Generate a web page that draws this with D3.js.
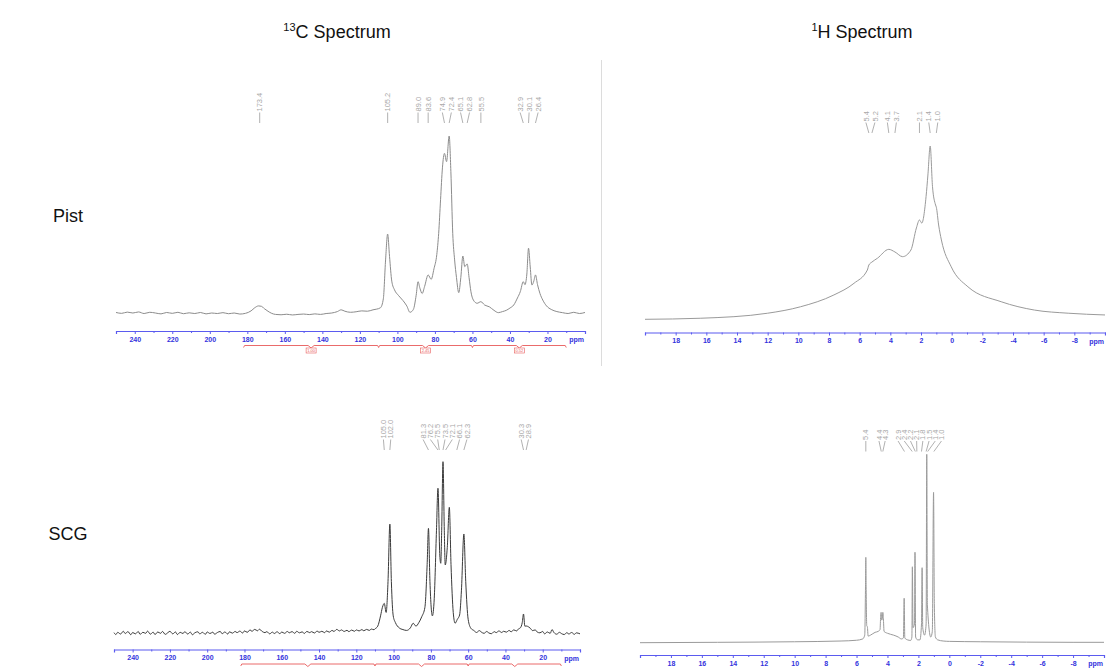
<!DOCTYPE html>
<html>
<head>
<meta charset="utf-8">
<script src="https://cdn.jsdelivr.net/npm/d3@7"></script>
<style>
  html, body { margin: 0; padding: 0; background: #fff; }
  svg { display: block; font-family: "Liberation Sans", Arial, sans-serif; }
</style>
</head>
<body>
<svg id="fig" width="1106" height="668"></svg>
<script>
// ---- Spectra: [chemical shift (ppm), relative intensity] ----
const pist13C = [
  [250,0.3],[247,-0.2],[244,0.5],[241,0.0],[238,0.6],[235,-0.3],[232,0.4],[229,0.0],[226,-0.5],[223,0.3],
  [220,-0.2],[217,0.4],[214,-0.4],[211,0.1],[208,-0.3],[205,0.3],[202,-0.5],[199,0.0],[196,-0.3],[193,0.2],
  [190,-0.4],[187,0.0],[184,-0.6],[181,-0.2],[178,1.2],[176,3.0],[174,4.0],[172.5,3.8],[171,2.5],[169,1.0],
  [167,-0.2],[165,-0.8],[162,-1.0],[159,-0.7],[156,-1.1],[153,-0.8],[150,-0.6],[147,-0.9],[144,-0.5],[141,-0.8],
  [138,-0.3],[135,0.0],[132,0.8],[130,1.8],[128,1.0],[125,0.4],[122,0.7],[119,1.2],[116,1.0],[113,1.8],
  [111,2.2],[109,3.0],[107.5,8],[106.3,30],[105.2,44.6],[104.2,32],[103,18],[101.5,13],[99.5,10],[97,7],
  [95,4],[93.3,0.4],[91.5,2],[90,10],[89,17.7],[88,14],[86.8,11],[85.5,15],[83.6,21.5],[82,19],
  [80.5,25],[79,33],[78,45],[77,64],[76,82],[74.9,90.2],[73.8,85.5],[72.4,100],[71.5,80],[70.5,45],
  [69.5,30],[68.5,20],[67.3,11.5],[66.2,20],[65.1,32.2],[64.1,26.2],[62.8,27.7],[61.8,20],[60.8,12],[59.5,7.3],
  [57.5,5.5],[55.5,6.4],[53.5,4.5],[51,3.5],[48.5,1.5],[46.2,0.2],[44,0.8],[42,1.5],[40,2.8],[38,4.5],
  [36,8.5],[34.5,12],[32.9,17.7],[32,16],[31,22],[30.1,36.6],[29.2,26],[28.3,15.8],[27.3,18],[26.4,21.5],
  [25.3,16],[24,11],[22.5,7.3],[20.5,4],[18,2],[15,0.8],[12,0.2],[9,-0.3],[6,0.4],[3,-0.3],[0,0.3]
];
const pist1H = [
  [20,0.4],[16.4,1.0],[12,3.9],[9.86,7.6],[7.68,14.4],[6.37,21.1],[5.5,28.7],[5.4,31.6],[5.2,33.3],[4.84,35.5],
  [4.1,40.6],[3.7,39.1],[3.2,36.4],[2.66,40.2],[2.3,52.9],[2.1,57.5],[1.95,55.7],[1.67,70.9],[1.55,83.3],[1.4,100],
  [1.25,76.6],[1.05,66.1],[1.0,64.8],[0.85,54.6],[0.67,46],[0.03,30.6],[-1.06,19.1],[-3.23,10.5],[-5.41,5.7],[-7.6,3.9],
  [-10,2.9]
];
const scg13C = [
  [250,0.2],[249,-0.9],[248,0.4],[246.5,-0.6],[245,1.0],[244,-0.3],[242.5,0.8],[241,-1.0],[240,0.3],[238.5,-0.5],
  [237,0.9],[236,-0.8],[234.5,0.4],[233,-0.2],[232,1.1],[230.5,-0.7],[229,0.5],[228,-0.9],[226.5,0.6],[225,-0.2],
  [224,0.9],[222.5,-0.8],[221,0.3],[220,1.0],[218.5,-0.5],[217,0.6],[216,-0.9],[214.5,0.4],[213,-0.3],[212,0.8],
  [210.5,-0.6],[209,0.5],[208,-1.0],[206.5,0.2],[205,0.7],[204,-0.5],[202.5,0.4],[201,-0.8],[200,0.6],[198.5,-0.3],
  [197,0.5],[196,-0.7],[194.5,0.3],[193,0.9],[192,-0.4],[190.5,0.6],[189,-0.6],[188,0.7],[186.5,-0.1],[185,0.9],
  [184,0.2],[182.5,1.1],[181,0.0],[180,1.2],[178.5,0.4],[177,1.8],[176,1.0],[174.5,2.1],[173,1.3],[172,2.2],
  [170.5,0.9],[169,0.2],[168,0.8],[166.5,-0.5],[165,0.5],[164,-0.3],[162.5,0.7],[161,-0.4],[160,0.6],[158.5,-0.2],
  [157,0.9],[156,0.1],[154.5,0.8],[153,-0.2],[152,1.0],[150.5,0.1],[149,0.7],[148,-0.3],[146.5,0.9],[145,0.2],
  [144,0.8],[142.5,0.0],[141,1.1],[140,0.4],[138.5,1.0],[137,0.2],[136,1.2],[134.5,0.5],[133,1.5],[132,0.9],
  [130.5,2.1],[129,1.2],[128,1.8],[126.5,0.9],[125,1.6],[124,0.8],[122.5,1.7],[121,1.0],[120,1.8],[118.5,1.2],
  [117,2.0],[116,1.3],[114.5,2.1],[113,1.5],[112,2.3],[110.5,1.9],[110,2.4],[108.5,4],[107,10],[106,15],
  [105.0,17.3],[104,12],[103,30],[102.0,63.6],[101.2,30],[100.2,10],[99,6],[97,3],[95,2],[93,1.5],
  [91,3],[89.5,5.7],[88,4],[86.5,6],[84.9,9.5],[83.2,15],[82,40],[81.3,61.1],[80.5,30],[79.2,10],
  [78.2,20],[77,60],[76.2,84.5],[75.2,45],[74.7,40.7],[74.2,60],[73.5,100],[72.8,60],[72.3,39.7],[71.2,50],
  [70.1,73.4],[69.2,40],[68,12],[67,5.7],[65.8,8],[64.6,10.5],[63.6,25],[62.3,57.8],[61.3,30],[60,8],
  [58.5,2.7],[57,1.5],[55.5,0.3],[54,1.4],[53,0.6],[51.5,-0.2],[50,0.9],[49,0.1],[47.5,-0.4],[46,0.8],
  [45,0.2],[43.5,1.2],[42,0.3],[41,1.0],[39.5,0.5],[38,1.5],[37,0.7],[35.5,1.8],[34,1.2],[33,2.4],
  [32,3.0],[31,6],[30.3,11.1],[29.6,4],[28.9,4.1],[27.5,3.5],[26.5,2.6],[25.5,1.4],[24,1.8],[23,0.6],
  [21.5,0.1],[20,0.9],[19,-0.5],[17.5,0.6],[16,-0.2],[15,2.0],[14,0.3],[12.5,-0.7],[11,0.4],[10,-0.3],
  [8.5,-0.9],[7,0.2],[6,-0.6],[4.5,0.3],[3,-0.8],[2,0.1],[0,-0.5]
];
const scg1H = [
  [20,0],[15,0.2],[10,0.5],[7,0.9],[6,1.3],[5.6,2.0],[5.47,4],[5.42,30],[5.40,45.3],[5.38,30],
  [5.34,9],[5.3,8.5],[5.25,3.5],[5.1,4],[4.8,5.5],[4.6,6],[4.48,7],[4.44,14],[4.41,16.1],[4.37,12],
  [4.33,13],[4.30,16.1],[4.26,12],[4.22,6],[4.0,5],[3.6,4],[3.3,3],[3.1,2],[2.97,2.5],[2.92,23.6],
  [2.88,2.5],[2.7,1.5],[2.5,1.2],[2.42,3],[2.39,40.3],[2.35,8],[2.25,10],[2.22,48],[2.18,3],[2.05,1.5],
  [1.9,1.5],[1.8,10],[1.76,39.8],[1.72,8],[1.6,4],[1.5,10],[1.46,100],[1.42,20],[1.2,3],[1.1,6],
  [1.02,79.8],[0.97,20],[0.9,3],[0.75,1.5],[0.4,0.9],[0,0.7],[-2,0.5],[-5,0.3],[-8,0.2],[-10,0.2]
];

// ---- Peak picks ----
const pist13CPeaks = [173.4, 105.2, 89.0, 83.6, 74.9, 72.4, 65.1, 62.8, 55.5, 32.9, 30.1, 26.4];
const pist1HPeaks  = [5.4, 5.2, 4.1, 3.7, 2.1, 1.4, 1.0];
const scg13CPeaks  = [105.0, 102.0, 81.3, 76.2, 75.5, 73.5, 72.1, 66.1, 62.3, 30.3, 28.9];
const scg1HPeaks   = [5.4, 4.4, 4.3, 2.9, 2.4, 2.2, 2.1, 1.8, 1.5, 1.4, 1.0];

// ---- Axis ticks and integrals ----
const c13Ticks = [240, 220, 200, 180, 160, 140, 120, 100, 80, 60, 40, 20];
const c13Minor = [250, 230, 210, 190, 170, 150, 130, 110, 90, 70, 50, 30, 10, 0];
const h1Ticks  = [18, 16, 14, 12, 10, 8, 6, 4, 2, 0, -2, -4, -6, -8];
const h1Minor  = [19, 17, 15, 13, 11, 9, 7, 5, 3, 1, -1, -3, -5, -7, -9, -10, 20];
const integralRegions = [[182, 110], [110, 60], [60, 10]];
const integralLabels  = ["1.00", "2.45", "0.52"];

const colTitles = ["13C Spectrum", "1H Spectrum"];
const rowTitles = ["Pist", "SCG"];

const svg = d3.select("#fig");
const AXIS_BLUE = "#5b5bef", TICK_BLUE = "#3333dd", RED = "#e85a5a";

// Panel layout (pixel frames)
const panels = [
  { data: pist13C, peaks: pist13CPeaks, dom: [250, 0], x0: 116, x1: 585, base: 313, top: 136,
    axisY: 331, ticks: c13Ticks, minor: c13Minor, integralY: 345.5, integralText: true,
    labelBottom: 111.5, connEnd: 123, gap: 9, stroke: "#8c8c8c", sw: 1 },
  { data: pist1H, peaks: pist1HPeaks, dom: [20, -10], x0: 645, x1: 1105, base: 320, top: 146,
    axisY: 332.5, ticks: h1Ticks, minor: h1Minor, labelBottom: 121.5, connEnd: 133,
    gap: 9, stroke: "#9a9a9a", sw: 1 },
  { data: scg13C, peaks: scg13CPeaks, dom: [250, 0], x0: 114, x1: 580, base: 633, top: 461.7,
    axisY: 649.5, ticks: c13Ticks, minor: c13Minor, integralY: 664, integralText: false,
    labelBottom: 438.5, connEnd: 450, gap: 7.3, stroke: "#3a3a3a", sw: 1 },
  { data: scg1H, peaks: scg1HPeaks, dom: [20, -10], x0: 640, x1: 1104, base: 642.7, top: 454.3,
    axisY: 655, ticks: h1Ticks, minor: h1Minor, labelBottom: 440, connEnd: 451.5,
    gap: 6.2, stroke: "#9a9a9a", sw: 1 }
];

// Spread overlapping peak labels into evenly spaced clusters
function spreadLabels(xs, gap) {
  let groups = xs.map((x, i) => ({ xs: [x], idx: [i], c: x }));
  let merged = true;
  while (merged) {
    merged = false;
    for (let i = 0; i < groups.length - 1; i++) {
      const g = groups[i], h = groups[i + 1];
      const gEnd = g.c + (g.xs.length - 1) * gap / 2;
      const hStart = h.c - (h.xs.length - 1) * gap / 2;
      if (hStart - gEnd < gap) {
        const all = g.xs.concat(h.xs);
        groups.splice(i, 2, { xs: all, idx: g.idx.concat(h.idx), c: d3.mean(all) });
        merged = true;
        break;
      }
    }
  }
  const out = [];
  groups.forEach(g => g.xs.forEach((x, k) => {
    out[g.idx[k]] = g.c + (k - (g.xs.length - 1) / 2) * gap;
  }));
  return out;
}

panels.forEach(p => {
  const x = d3.scaleLinear().domain(p.dom).range([p.x0, p.x1]);
  const y = d3.scaleLinear().domain([0, 100]).range([p.base, p.top]);
  const g = svg.append("g");

  // spectrum trace
  const line = d3.line()
    .x(d => x(d[0]))
    .y(d => y(d[1]))
    .curve(d3.curveMonotoneX);
  const sorted = p.data.slice().sort((a, b) => b[0] - a[0]);
  g.append("path")
    .attr("d", line(sorted))
    .attr("fill", "none")
    .attr("stroke", p.stroke)
    .attr("stroke-width", p.sw)
    .attr("stroke-linejoin", "round");

  // ppm axis
  const axis = d3.axisBottom(x).tickValues(p.ticks).tickSize(3).tickPadding(3)
    .tickFormat(d => String(d));
  const ax = g.append("g").attr("transform", `translate(0,${p.axisY})`).call(axis);
  ax.select(".domain").attr("stroke", AXIS_BLUE).attr("stroke-width", 1.2);
  ax.selectAll(".tick line").attr("stroke", AXIS_BLUE);
  ax.selectAll(".tick text").attr("fill", TICK_BLUE).attr("font-size", 7)
    .attr("font-weight", "bold").attr("font-family", "Liberation Sans, Arial, sans-serif");
  const minorAxis = d3.axisBottom(x).tickValues(p.minor).tickSize(2).tickFormat("");
  const mx = g.append("g").attr("transform", `translate(0,${p.axisY})`).call(minorAxis);
  mx.select(".domain").remove();
  mx.selectAll(".tick line").attr("stroke", AXIS_BLUE);
  g.append("text")
    .attr("x", p.x1 - 1).attr("y", p.axisY + 11)
    .attr("text-anchor", "end")
    .attr("fill", TICK_BLUE).attr("font-size", 7).attr("font-weight", "bold")
    .text("ppm");

  // peak picking labels
  const peakX = p.peaks.map(v => x(v));
  const order = d3.range(peakX.length).sort((a, b) => peakX[a] - peakX[b]);
  const spreadSorted = spreadLabels(order.map(i => peakX[i]), p.gap);
  const labelX = [];
  order.forEach((i, k) => labelX[i] = spreadSorted[k]);
  const lab = g.append("g");
  p.peaks.forEach((v, i) => {
    lab.append("text")
      .attr("transform", `translate(${labelX[i]},${p.labelBottom}) rotate(-90)`)
      .attr("dy", "0.35em")
      .attr("font-size", 7.5)
      .attr("fill", "#a8a8a8")
      .text(v.toFixed(1));
    lab.append("line")
      .attr("x1", labelX[i]).attr("y1", p.labelBottom + 1)
      .attr("x2", peakX[i]).attr("y2", p.connEnd)
      .attr("stroke", "#a8a8a8").attr("stroke-width", 0.9);
  });

  // integral brackets
  if (p.integralY) {
    const iy = p.integralY;
    integralRegions.forEach((r, k) => {
      const xa = x(r[0]), xb = x(r[1]), xc = (xa + xb) / 2;
      g.append("path")
        .attr("d", `M${xa},${iy + 2} L${xa + 1},${iy} L${xc - 3},${iy} L${xc},${iy + 2.5} L${xc + 3},${iy} L${xb - 1},${iy} L${xb},${iy + 2}`)
        .attr("fill", "none").attr("stroke", RED).attr("stroke-width", 0.9);
      if (p.integralText) {
        g.append("rect")
          .attr("x", xc - 5).attr("y", iy + 2.5).attr("width", 10).attr("height", 5)
          .attr("fill", "#fff").attr("stroke", RED).attr("stroke-width", 0.6);
        g.append("text")
          .attr("x", xc).attr("y", iy + 6.5).attr("text-anchor", "middle")
          .attr("font-size", 4).attr("fill", RED)
          .text(integralLabels[k]);
      }
    });
  }
});

// divider between the two upper panels
svg.append("line")
  .attr("x1", 601.5).attr("x2", 601.5).attr("y1", 60).attr("y2", 366)
  .attr("stroke", "#dcdcdc").attr("stroke-width", 1);

// column headings with superscript nuclei
const colX = [337, 862];
colTitles.forEach((t, i) => {
  const m = t.match(/^(\d+)(.*)$/);
  const txt = svg.append("text")
    .attr("x", colX[i]).attr("y", 38)
    .attr("text-anchor", "middle")
    .attr("font-size", 18).attr("fill", "#111");
  txt.append("tspan").attr("font-size", 11).attr("dy", -7).text(m[1]);
  txt.append("tspan").attr("dy", 7).text(m[2]);
});

// row headings
const rowY = [222, 540];
rowTitles.forEach((t, i) => {
  svg.append("text")
    .attr("x", 68).attr("y", rowY[i])
    .attr("text-anchor", "middle")
    .attr("font-size", 18).attr("fill", "#111")
    .text(t);
});
</script>
</body>
</html>
